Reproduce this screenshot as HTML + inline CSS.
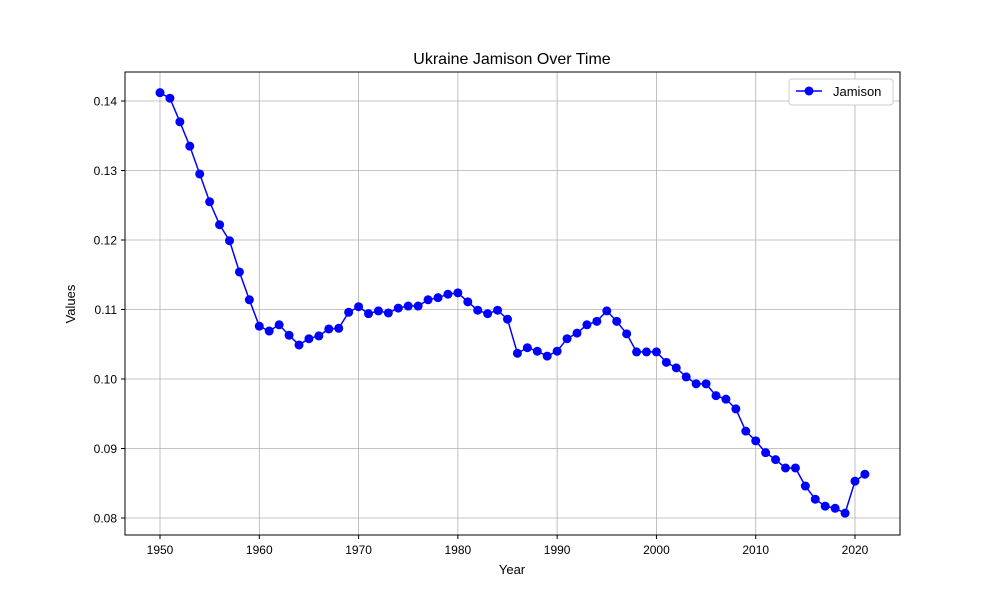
<!DOCTYPE html>
<html><head><meta charset="utf-8"><style>
html,body{margin:0;padding:0;background:#fff;}
svg{display:block;font-family:"Liberation Sans","DejaVu Sans",sans-serif;}
</style></head><body>
<svg id="chart" width="1000" height="600" xmlns="http://www.w3.org/2000/svg">
<rect width="1000" height="600" fill="#fff"/>
<text x="512" y="64" text-anchor="middle" font-size="16">Ukraine Jamison Over Time</text>
<g id="grid"></g>
<rect x="125" y="72" width="775" height="463" fill="none" stroke="#000" stroke-width="1"/>
<g id="xticks"></g><g id="yticks"></g>
<g id="series"></g>
<text x="512" y="574" text-anchor="middle" font-size="13">Year</text>
<text x="75" y="304" text-anchor="middle" font-size="13" transform="rotate(-90 75 304)">Values</text>
<g>
<rect x="789" y="79" width="104" height="26" rx="3" fill="#fff" stroke="#ccc"/>
<g>
<line x1="796" y1="91" x2="822" y2="91" stroke="#0000ff" stroke-width="1.5"/>
<circle cx="809" cy="91" r="4.5" fill="#0000ff"/>
<text x="833" y="96" font-size="13">Jamison</text>
</g></g>
</svg>
<script>
const years=[];for(let y=1950;y<=2021;y++)years.push(y);
const values=[0.1412,0.1404,0.1370,0.1335,0.1295,0.1255,0.1222,0.1199,0.1154,0.1114,0.1076,0.1069,0.1078,0.1063,0.1049,0.1058,0.1062,0.1072,0.1073,0.1096,0.1104,0.1094,0.1098,0.1095,0.1102,0.1105,0.1105,0.1114,0.1117,0.1122,0.1124,0.1111,0.1099,0.1094,0.1099,0.1086,0.1037,0.1045,0.1040,0.1033,0.1040,0.1058,0.1066,0.1078,0.1083,0.1098,0.1083,0.1065,0.1039,0.1039,0.1039,0.1024,0.1016,0.1003,0.0993,0.0993,0.0976,0.0971,0.0957,0.0925,0.0911,0.0894,0.0884,0.0872,0.0872,0.0846,0.0827,0.0817,0.0814,0.0807,0.0853,0.0863];
const xTicks=[1950,1960,1970,1980,1990,2000,2010,2020];
const yTicks=[0.08,0.09,0.10,0.11,0.12,0.13,0.14];
const NS="http://www.w3.org/2000/svg";
function xs(v){return 160+(v-1950)*(855-160)/70;}
function ys(v){return 518-(v-0.08)*(518-101)/0.06;}
function mk(t,a,p){const e=document.createElementNS(NS,t);for(const k in a)e.setAttribute(k,a[k]);p.appendChild(e);return e;}
const grid=document.getElementById('grid'),xt=document.getElementById('xticks'),yt=document.getElementById('yticks'),ser=document.getElementById('series');
xTicks.forEach(t=>{const x=xs(t);
const g=mk('line',{x1:x,x2:x,y1:72,y2:535,stroke:'#b0b0b0','stroke-width':0.8},grid);


mk('line',{x1:x,x2:x,y1:535,y2:539,stroke:'#000'},xt);
const l=mk('text',{x:x,y:554,'text-anchor':'middle','font-size':12},xt);l.textContent=t;

});
yTicks.forEach(t=>{const y=ys(t);
const g=mk('line',{x1:125,x2:900,y1:y,y2:y,stroke:'#b0b0b0','stroke-width':0.8},grid);


mk('line',{x1:121,x2:125,y1:y,y2:y,stroke:'#000'},yt);
const l=mk('text',{x:117,y:y+4.5,'text-anchor':'end','font-size':12},yt);l.textContent=t.toFixed(2);

});
const pl=mk('polyline',{points:years.map((y,i)=>xs(y)+','+ys(values[i])).join(' '),fill:'none',stroke:'#0000ff','stroke-width':1.5},ser);


years.forEach((y,i)=>{const c=mk('circle',{cx:xs(y),cy:ys(values[i]),r:4.5,fill:'#0000ff'},ser);

});
</script>
</body></html>
